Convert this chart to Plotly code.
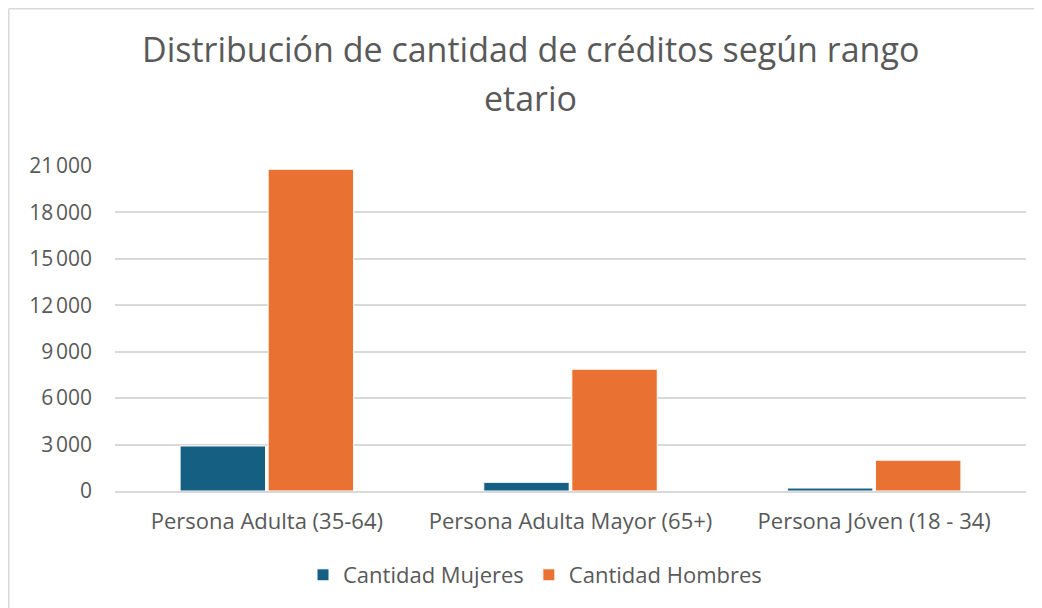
import plotly.graph_objects as go

# Datos
categorias = ["Persona Adulta (35-64)", "Persona Adulta Mayor (65+)", "Persona Jóven (18 - 34)"]
mujeres = [2910, 560, 190]
hombres = [20790, 7870, 1990]
y_ticks = [0, 3000, 6000, 9000, 12000, 15000, 18000, 21000]

AZUL = "#156082"
NARANJA = "#E97132"
GRIS_TXT = "#595959"
FUENTE = "Open Sans"

# la página añade 8 px de margen, así que se trabaja en coordenadas de la referencia - 8
OFF = 8
W, H = 1042 - OFF, 608 - OFF
ML, MR, MT, MB = 115 - OFF, 16, 166 - OFF, 117
PW, PH = W - ML - MR, H - MT - MB


def px_x(p):
    return (p - OFF - ML) / PW


def px_y(p):
    return (H - MB - (p - OFF)) / PH


fig = go.Figure()
fig.add_trace(go.Bar(x=categorias, y=mujeres, name="Cantidad Mujeres",
                     marker=dict(color=AZUL, line=dict(color="white", width=1))))
fig.add_trace(go.Bar(x=categorias, y=hombres, name="Cantidad Hombres",
                     marker=dict(color=NARANJA, line=dict(color="white", width=1))))

fig.update_layout(
    width=W, height=H,
    margin=dict(l=ML, r=MR, t=MT, b=MB, autoexpand=False),
    paper_bgcolor="white", plot_bgcolor="white",
    font=dict(family=FUENTE, color=GRIS_TXT, size=21),
    separators=".\u202f",
    barmode="group", bargap=0.42, bargroupgap=0.03,
    showlegend=True,
    legend=dict(orientation="h", x=px_x(535), xanchor="center",
                y=px_y(575), yanchor="middle",
                font=dict(size=22, color=GRIS_TXT), itemwidth=30,
                tracegroupgap=0),
    annotations=[
        dict(text="Distribución de cantidad de créditos según rango",
             xref="paper", yref="paper", x=px_x(530), y=px_y(49),
             xanchor="center", yanchor="middle", showarrow=False,
             font=dict(size=34, color=GRIS_TXT, family=FUENTE)),
        dict(text="etario",
             xref="paper", yref="paper", x=px_x(530), y=px_y(98),
             xanchor="center", yanchor="middle", showarrow=False,
             font=dict(size=34, color=GRIS_TXT, family=FUENTE)),
    ],
    # borde del gráfico (solo visibles los lados izquierdo y superior)
    shapes=[
        dict(type="line", xref="paper", yref="paper",
             x0=px_x(8.75), x1=px_x(1060), y0=px_y(8.75), y1=px_y(8.75),
             line=dict(color="#D9D9D9", width=1.5)),
        dict(type="line", xref="paper", yref="paper",
             x0=px_x(8.75), x1=px_x(8.75), y0=px_y(8.75), y1=px_y(630),
             line=dict(color="#D9D9D9", width=1.5)),
    ],
)

fig.update_yaxes(range=[0, 21000], tickvals=y_ticks, tickformat=",d",
                 showgrid=True, gridcolor="#D9D9D9", gridwidth=1.5,
                 zeroline=False, showline=False, ticks="",
                 ticklabelstandoff=22, tickfont=dict(size=21))
fig.update_xaxes(showgrid=False, showline=True, linecolor="#D9D9D9", linewidth=1.5,
                 ticks="", tickfont=dict(size=22), ticklabelstandoff=10)

fig.write_html("out.html")
